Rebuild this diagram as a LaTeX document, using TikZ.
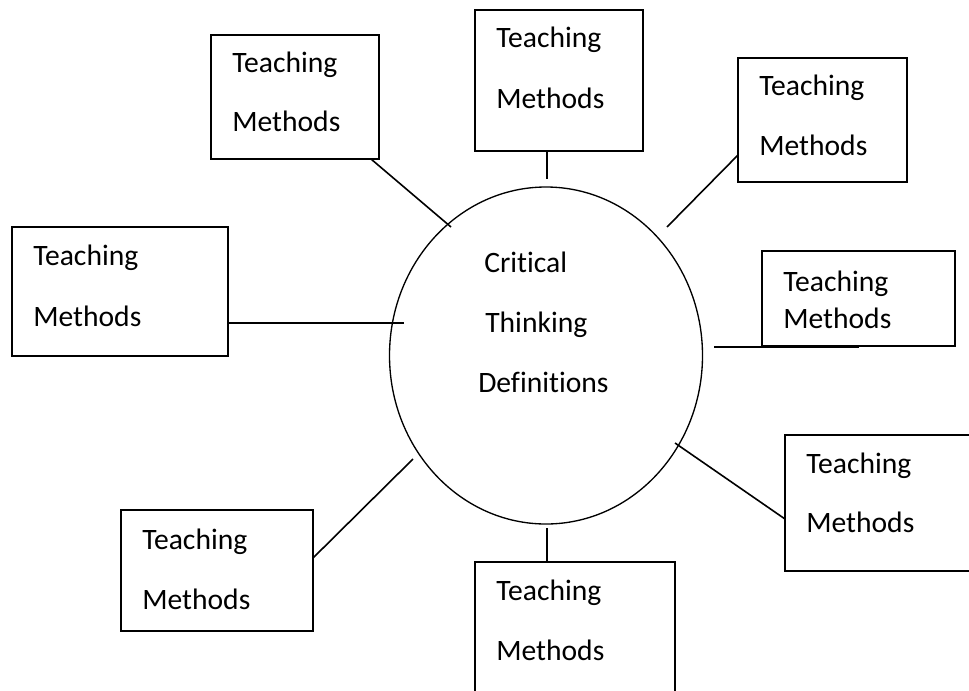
\documentclass[tikz,border=0pt]{standalone}
\usepackage{fontspec}
\setmainfont{Carlito}[Ligatures={NoCommon,NoContextual}]
\usetikzlibrary{fit,shapes.geometric}
\begin{document}
\begin{tikzpicture}[x=0.75pt,y=-0.75pt,
  box/.style={draw=black,line width=1.4pt,rectangle,inner sep=0pt},
  oval/.style={draw=black,line width=1pt,ellipse,inner sep=0pt,minimum width=234.75pt,minimum height=252.75pt},
  conn/.style={draw=black,line width=1.2pt},
  txt/.style={anchor=base west,inner sep=0pt,font=\fontsize{22.2pt}{26pt}\selectfont}]
\useasboundingbox (0,0) rectangle (969,690);
\clip (0,0) rectangle (969,690);
% central ellipse
\node[oval] (c) at (546,355.5) {};
\node[txt] (ct1) at (484,272) {Critical};
\node[txt] (ct2) at (485,332) {Thinking};
\node[txt] (ct3) at (478,392) {Definitions};
% boxes
\node[box,fit={(211,35) (379,159)}] (b1) {};
\node[box,fit={(475,10) (643,151)}] (b2) {};
\node[box,fit={(738,58) (907,182)}] (b3) {};
\node[box,fit={(12,227) (228,356)}] (b4) {};
\node[box,fit={(762,251) (955,346)}] (b5) {};
\node[box,fit={(785,435) (995,571)}] (b6) {};
\node[box,fit={(121,510) (313,631)}] (b7) {};
\node[box,fit={(475,562) (675,705)}] (b8) {};
% box texts
\node[txt] (t1a) at (232,72) {Teaching};  \node[txt] (t1b) at (232,131) {Methods};
\node[txt] (t2a) at (496,47) {Teaching};  \node[txt] (t2b) at (496,108) {Methods};
\node[txt] (t3a) at (759,95) {Teaching};  \node[txt] (t3b) at (759,155) {Methods};
\node[txt] (t4a) at (33,265) {Teaching};  \node[txt] (t4b) at (33,326) {Methods};
\node[txt] (t5a) at (783,291) {Teaching}; \node[txt] (t5b) at (783,328) {Methods};
\node[txt] (t6a) at (806,473) {Teaching}; \node[txt] (t6b) at (806,532) {Methods};
\node[txt] (t7a) at (142,549) {Teaching}; \node[txt] (t7b) at (142,609) {Methods};
\node[txt] (t8a) at (496,600) {Teaching}; \node[txt] (t8b) at (496,660) {Methods};
% connector ends
\coordinate (s1) at (371,159); \coordinate (e1) at (451,227);
\coordinate (s2) at (547,151); \coordinate (e2) at (547,179);
\coordinate (s3) at (738,155); \coordinate (e3) at (667,227);
\coordinate (s4) at (228,323); \coordinate (e4) at (404,323);
\coordinate (s5) at (859,347); \coordinate (e5) at (714,347);
\coordinate (s6) at (785,519); \coordinate (e6) at (675,443);
\coordinate (s7) at (313,558); \coordinate (e7) at (413,459);
\coordinate (s8) at (547,562); \coordinate (e8) at (547,528);
\foreach \i in {1,...,8} {\draw[conn] (s\i) -- (e\i);}
\end{tikzpicture}
\end{document}
